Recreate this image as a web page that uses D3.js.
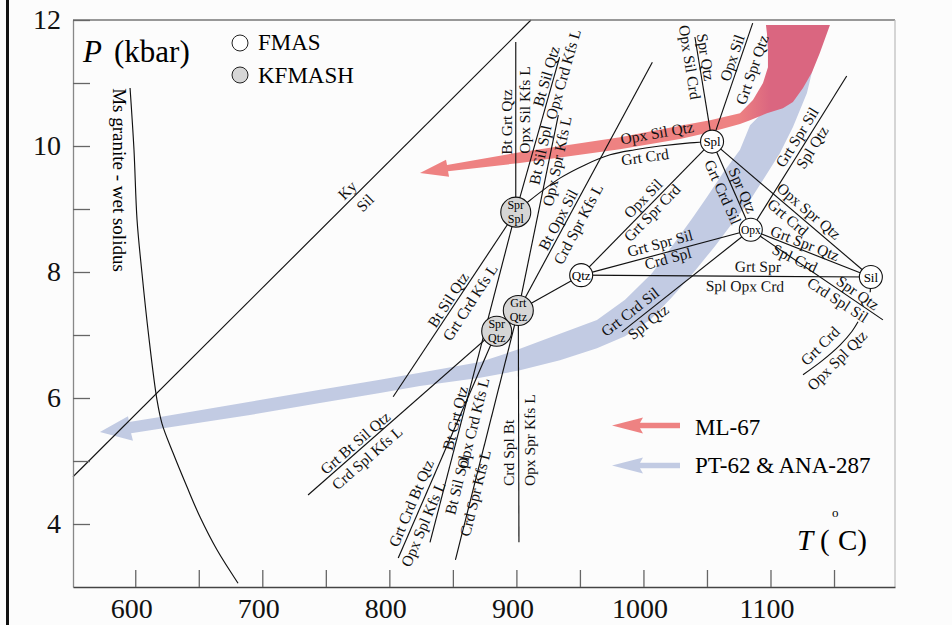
<!DOCTYPE html>
<html>
<head>
<meta charset="utf-8">
<script src="https://cdn.jsdelivr.net/npm/d3@7"></script>
<style>
  body { margin: 0; background: #fcfcfc; }
  svg { display: block; font-family: 'Liberation Serif', 'Times New Roman', serif; }
  .rx { fill: none; stroke: #111; stroke-width: 1.15; }
  .lbl { font-size: 15.5px; fill: #111; }
</style>
</head>
<body>
<div id="chart"></div>
<script>
const width = 952;
const height = 625;

// axes
const tTicks = [600, 650, 700, 750, 800, 850, 900, 950, 1000, 1050, 1100, 1150];
const tLabels = [600, 700, 800, 900, 1000, 1100];
const pTicks = [4, 5, 6, 7, 8, 9, 10, 11, 12];
const pLabels = [4, 6, 8, 10, 12];

// invariant points [T, P]
const SprSpl = [899.5, 8.95];
const GrtQtz = [901.5, 7.39];
const SprQtz = [884.5, 7.06];
const Qtz = [951, 7.95];
const Spl = [1054, 10.07];
const Opx = [1084.5, 8.67];
const Sil = [1179, 7.92];

const fmasPoints = [['Qtz', Qtz], ['Spl', Spl], ['Opx', Opx], ['Sil', Sil]];
const kfmashPoints = [[['Spr', 'Spl'], SprSpl], [['Grt', 'Qtz'], GrtQtz], [['Spr', 'Qtz'], SprQtz]];

// straight reaction lines
const reactions = [
    [SprSpl, [899.5, 11.65]],
    [GrtQtz, [902, 3.71]],
    [SprSpl, [934, 11.41]],
    [GrtQtz, [933, 10.49]],
    [GrtQtz, [852, 3.43]],
    [GrtQtz, [1007, 11.33]],
    [SprSpl, [803, 6.02]],
    [GrtQtz, [736, 4.46]],
    [SprSpl, [832, 3.71]],
    [SprQtz, [807, 3.46]],
    [GrtQtz, Qtz],
    [Qtz, Spl], [Qtz, Opx], [Qtz, Sil],
    [Spl, [1040.5, 11.73]], [Spl, [1086, 11.95]], [Spl, Opx], [Spl, Sil],
    [Opx, [1160, 11.11]], [Opx, [983, 7.05]], [Opx, Sil], [Opx, [1188.5, 7.24]],
    [Sil, [1178.5, 7.68]]
];

// curved reactions
const grtCrdCurve = [SprSpl, [908.3, 9.10], [934.3, 9.49], [954, 9.70], [973.7, 9.86],
    [993.3, 9.94], [1013, 10.00], [1036.6, 10.05], Spl];
const opxSplQtzCurve = [[1168.9, 7.21], [1164.2, 7.06], [1154.7, 6.84], [1140.5, 6.59], [1125.6, 6.37]];
const kySil = [[551, 4.75], [911.5, 12]];
const msSolidus = [[595.9, 10.92], [599, 9.94], [601.4, 8.83], [605.3, 7.98], [610.5, 7.00],
    [617.1, 5.97], [621.1, 5.59], [629.7, 5.13], [640.7, 4.59], [651, 4.11], [664.3, 3.59], [680.9, 3.06]];

// P-T paths (outlines)
const ml67Band = [[824.1, 9.57], [844.6, 9.78], [845.4, 9.70], [902.8, 9.90], [981.5, 10.14],
    [1028.8, 10.32], [1052.4, 10.41], [1076.0, 10.52], [1086.2, 10.73], [1094.1, 11.00],
    [1098.0, 11.25], [1098.0, 11.52], [1097.2, 11.79], [1096.4, 11.92], [1146.8, 11.92],
    [1138.9, 11.48], [1132.7, 11.17], [1125.6, 10.92], [1117.7, 10.70], [1109.8, 10.60],
    [1097.2, 10.52], [1083.9, 10.41], [1076.0, 10.35], [1052.4, 10.22], [1028.8, 10.11],
    [981.5, 9.95], [902.8, 9.73], [846.2, 9.60], [847.0, 9.51]];
const pt62Band = [[572.2, 5.46], [594.3, 5.71], [595.1, 5.62], [619.5, 5.70], [690.3, 5.94],
    [745.4, 6.13], [792.6, 6.29], [824.1, 6.40], [871.4, 6.57], [902.8, 6.78], [934.3, 7.02],
    [963.4, 7.24], [985.5, 7.56], [1006.7, 7.98], [1023.2, 8.43], [1039.0, 8.87], [1050.0, 9.19],
    [1062.6, 9.57], [1076.0, 9.94], [1083.9, 10.33], [1107.5, 10.81], [1123.2, 11.33],
    [1132.7, 11.37], [1133.4, 11.24], [1128.7, 10.84], [1117.7, 10.30], [1107.5, 9.89],
    [1094.1, 9.46], [1083.9, 9.14], [1070.5, 8.79], [1056.3, 8.41], [1039.0, 7.98],
    [1022.4, 7.60], [1005.2, 7.24], [985.5, 6.98], [963.4, 6.79], [934.3, 6.60], [902.8, 6.44],
    [871.4, 6.32], [824.1, 6.19], [792.6, 6.08], [745.4, 5.92], [690.3, 5.73], [619.5, 5.51],
    [596.7, 5.44], [598.2, 5.32]];

// reaction labels [text, T, P, angle]
const labels = [
    ['Bt Grt Qtz', 892.6, 10.38, -90], ['Opx Sil Kfs L', 906.0, 10.57, -90],
    ['Bt Sil Qtz', 923.3, 11.11, -74], ['Opx Crd Kfs L', 936.7, 11.14, -74],
    ['Bt Sil Spl', 918.6, 9.86, -78], ['Opx Spr Kfs L', 931.9, 9.76, -78],
    ['Bt Opx Sil', 932.7, 8.83, -62], ['Crd Spr Kfs L', 948.5, 8.76, -62],
    ['Bt Sil Qtz', 846.2, 7.56, -57], ['Grt Crd Kfs L', 863.5, 7.52, -57],
    ['Grt Bt Sil Qtz', 773.0, 5.29, -41], ['Crd Spl Kfs L', 782.4, 5.05, -41],
    ['Bt Grt Qtz', 851.7, 5.68, -76], ['Opx Crd Kfs L', 865.8, 5.60, -76],
    ['Grt Crd Bt Qtz', 817.0, 4.33, -67], ['Opx Spl Kfs L', 826.5, 4.00, -67],
    ['Bt Sil Spl', 853.2, 4.62, -76], ['Crd Spr Kfs L', 867.4, 4.49, -76],
    ['Crd Spl Bt', 893.4, 5.13, -90], ['Opx Spr Kfs L', 910.7, 5.33, -90],
    ['Opx Sil Qtz', 1010.7, 10.21, -10], ['Grt Crd', 1001.2, 9.83, -8],
    ['Opx Sil Crd', 1036.6, 11.33, 81], ['Spr Qtz', 1049.2, 11.41, 81],
    ['Opx Sil', 1069.7, 11.40, -71], ['Grt Spr Qtz', 1085.4, 11.21, -71],
    ['Opx Sil', 999.6, 9.17, -45.6], ['Grt Spr Crd', 1006.7, 8.94, -45.6],
    ['Grt Spr Sil', 1013.0, 8.46, -15], ['Crd Spl', 1019.3, 8.22, -15],
    ['Grt Spr', 1090.1, 8.09, 0.5], ['Spl Opx Crd', 1079.9, 7.78, 0.5],
    ['Grt Crd Sil', 1062.6, 9.27, 66], ['Spr Qtz', 1078.3, 9.30, 66],
    ['Opx Spr Qtz', 1130.3, 8.97, 40.5], ['Grt Crd', 1113.8, 8.87, 40.5],
    ['Grt Spr Sil', 1120.8, 10.14, -58], ['Spl Qtz', 1132.7, 9.98, -58],
    ['Grt Crd Sil', 989.4, 7.37, -38], ['Spl Qtz', 1003.6, 7.21, -38],
    ['Grt Spr Qtz', 1127.1, 8.46, 21.5], ['Spl Crd', 1119.2, 8.22, 25],
    ['Crd Spl Sil', 1153.1, 7.56, 33], ['Spr Qtz', 1168.9, 7.67, 35],
    ['Grt Crd', 1138.9, 6.83, -45], ['Opx Spl Qtz', 1152.3, 6.60, -45],
    ['Ky', 766.7, 9.30, -45], ['Sil', 780.8, 9.10, -45]
];

const svg = d3.select('#chart')
    .append('svg')
    .attr('width', width)
    .attr('height', height);

const x = d3.scaleLinear().domain([551, 1198]).range([73, 895]);
const y = d3.scaleLinear().domain([3, 12]).range([587, 20]);

const line = d3.line().x(d => x(d[0])).y(d => y(d[1]));
const smooth = d3.line().x(d => x(d[0])).y(d => y(d[1])).curve(d3.curveCatmullRom);
const area = d3.line().x(d => x(d[0])).y(d => y(d[1])).curve(d3.curveLinearClosed);

// page border bar
svg.append('rect').attr('x', 6).attr('y', 0).attr('width', 3).attr('height', height).attr('fill', '#111');

// gradient for ML-67
const grad = svg.append('defs').append('linearGradient')
    .attr('id', 'redGrad')
    .attr('gradientUnits', 'userSpaceOnUse')
    .attr('x1', x(1074)).attr('x2', x(1100)).attr('y1', 0).attr('y2', 0);
grad.append('stop').attr('offset', 0).attr('stop-color', '#ee8282');
grad.append('stop').attr('offset', 1).attr('stop-color', '#da6680');

// bands
svg.append('path').attr('d', area(pt62Band)).attr('fill', '#c2cbe3');
svg.append('path').attr('d', area(ml67Band)).attr('fill', 'url(#redGrad)');

// lines
svg.append('path').attr('class', 'rx').attr('d', line(kySil)).attr('stroke-width', 1);
svg.append('path').attr('class', 'rx').attr('d', smooth(msSolidus)).attr('stroke-width', 1);
svg.selectAll('.reaction')
    .data(reactions)
    .enter()
    .append('path')
    .attr('class', 'rx reaction')
    .attr('d', d => line(d));
svg.append('path').attr('class', 'rx').attr('d', smooth(grtCrdCurve));
svg.append('path').attr('class', 'rx').attr('d', smooth(opxSplQtzCurve));

// labels
svg.selectAll('.lbl')
    .data(labels)
    .enter()
    .append('text')
    .attr('class', 'lbl')
    .attr('text-anchor', 'middle')
    .attr('dominant-baseline', 'central')
    .attr('transform', d => 'translate(' + x(d[1]) + ',' + y(d[2]) + ') rotate(' + d[3] + ')')
    .text(d => d[0]);

svg.append('text')
    .attr('transform', 'translate(119,180) rotate(90)')
    .attr('text-anchor', 'middle')
    .attr('dominant-baseline', 'central')
    .attr('font-size', 19)
    .text('Ms granite - wet solidus');

// invariant points
const fm = svg.selectAll('.fmas')
    .data(fmasPoints)
    .enter()
    .append('g')
    .attr('transform', d => 'translate(' + x(d[1][0]) + ',' + y(d[1][1]) + ')');
fm.append('circle').attr('r', 11.5).attr('fill', '#fff').attr('stroke', '#111').attr('stroke-width', 1.1);
fm.append('text')
    .attr('text-anchor', 'middle')
    .attr('dominant-baseline', 'central')
    .attr('font-size', d => d[0] === 'Opx' ? 11.5 : 13)
    .text(d => d[0]);

const kf = svg.selectAll('.kf')
    .data(kfmashPoints)
    .enter()
    .append('g')
    .attr('transform', d => 'translate(' + x(d[1][0]) + ',' + y(d[1][1]) + ')');
kf.append('circle').attr('r', 15).attr('fill', '#d6d6d6').attr('stroke', '#111').attr('stroke-width', 1.1);
kf.append('text').attr('text-anchor', 'middle').attr('y', -3).attr('font-size', 12).text(d => d[0][0]);
kf.append('text').attr('text-anchor', 'middle').attr('y', 10.5).attr('font-size', 12).text(d => d[0][1]);

// frame
svg.append('line').attr('x1', 73).attr('x2', 895).attr('y1', 20).attr('y2', 20).attr('stroke', '#777').attr('stroke-width', 1.5);
svg.append('line').attr('x1', 895).attr('x2', 895).attr('y1', 20).attr('y2', 587).attr('stroke', '#bbb').attr('stroke-width', 1.2);

// axes
const yAxis = d3.axisLeft(y)
    .tickValues(pTicks)
    .tickSize(-17)
    .tickSizeOuter(0)
    .tickPadding(12)
    .tickFormat(d => pLabels.includes(d) ? d : '');
const yAxisG = svg.append('g')
    .attr('transform', 'translate(73,0)')
    .call(yAxis);

const xAxis = d3.axisBottom(x)
    .tickValues(tTicks)
    .tickSize(-17)
    .tickSizeOuter(0)
    .tickPadding(11)
    .tickFormat(d => tLabels.includes(d) ? d : '');
const xAxisG = svg.append('g')
    .attr('transform', 'translate(0,587)')
    .call(xAxis);
xAxisG.selectAll('text').attr('dx', -4);

[yAxisG, xAxisG].forEach(g => {
    g.attr('font-family', null).attr('font-size', null);
    g.selectAll('text').attr('font-size', 28).attr('fill', '#111');
    g.selectAll('line').attr('stroke', '#666').attr('stroke-width', 1.3);
});
yAxisG.select('.domain').attr('stroke', '#888').attr('stroke-width', 1.3);
xAxisG.select('.domain').attr('stroke', '#444').attr('stroke-width', 1.5);

// axis titles
svg.append('text').attr('x', 83).attr('y', 62).attr('font-size', 31).attr('font-style', 'italic').text('P');
svg.append('text').attr('x', 114).attr('y', 62).attr('font-size', 31).text('(kbar)');
svg.append('text').attr('x', 797).attr('y', 550).attr('font-size', 29).attr('font-style', 'italic').text('T');
svg.append('text').attr('x', 820).attr('y', 550).attr('font-size', 29).text('(');
svg.append('text').attr('x', 838).attr('y', 550).attr('font-size', 29).text('C)');
svg.append('text').attr('x', 832).attr('y', 517).attr('font-size', 13).text('o');

// legend: circles
svg.append('circle').attr('cx', 240).attr('cy', 43).attr('r', 8).attr('fill', '#fff').attr('stroke', '#222');
svg.append('text').attr('x', 258).attr('y', 50).attr('font-size', 23).text('FMAS');
svg.append('circle').attr('cx', 240).attr('cy', 75).attr('r', 8).attr('fill', '#d6d6d6').attr('stroke', '#222');
svg.append('text').attr('x', 258).attr('y', 83).attr('font-size', 23).text('KFMASH');

// legend: paths
function legendArrow(x0, y0, color) {
    const pts = [[0, 0], [31, -8], [28, -2.8], [68, -2.8], [68, 2.8], [28, 2.8], [31, 8]];
    svg.append('polygon')
        .attr('points', pts.map(p => (x0 + p[0]) + ',' + (y0 + p[1])).join(' '))
        .attr('fill', color);
}
legendArrow(612, 425.5, '#ee8282');
legendArrow(612, 465.5, '#c2cbe3');
svg.append('text').attr('x', 695).attr('y', 435).attr('font-size', 23).text('ML-67');
svg.append('text').attr('x', 695).attr('y', 473).attr('font-size', 23).text('PT-62 & ANA-287');
</script>
</body>
</html>
